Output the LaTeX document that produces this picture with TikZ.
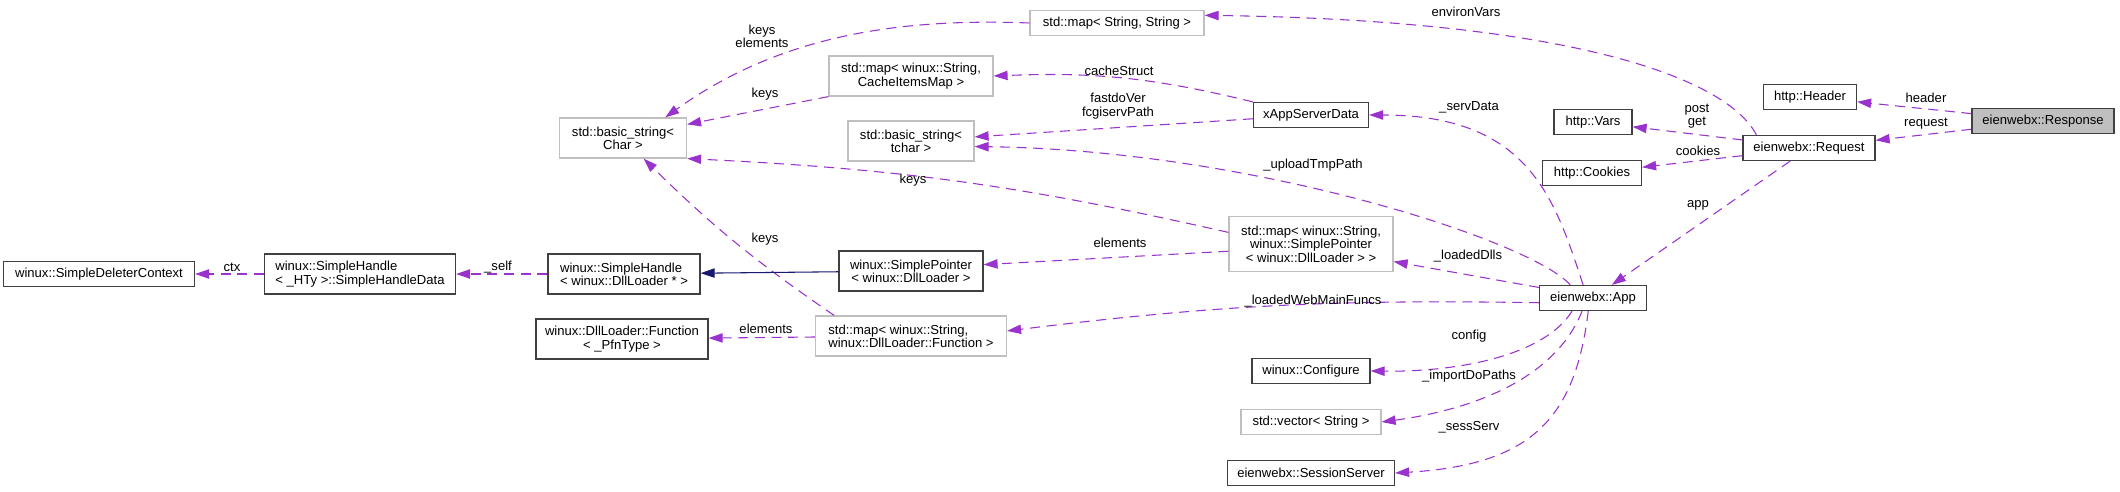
\documentclass[tikz,border=0pt]{standalone}
\usepackage{fontspec}
\setmainfont{Liberation Sans}
\usetikzlibrary{arrows.meta}
\definecolor{edgepurple}{HTML}{9A32CD}
\definecolor{inhnavy}{HTML}{191970}
\definecolor{boxgray}{HTML}{BFBFBF}

\begin{document}
\begin{tikzpicture}[x=0.75pt, y=-0.75pt,
    every node/.style={font=\fontsize{9.8}{10}\selectfont, inner sep=0pt},
    cls/.style={draw=black!75, line width=0.9pt, fill=white, minimum height=18.75pt},
    ext/.style={draw=boxgray, line width=0.9pt, fill=white, minimum height=18.75pt},
    wd/.style={minimum width=#1*0.75pt},
    two/.style={minimum height=30pt, align=center},
    dep/.style={draw=edgepurple, line width=0.8pt, dash pattern=on 7.5pt off 5pt,
        -{Triangle[length=10.5pt,width=7pt]}},
    inh/.style={draw=inhnavy, line width=0.8pt, -{Triangle[length=10.5pt,width=7pt]}},
    lbl/.style={align=center}]
    \useasboundingbox (0,0) rectangle (2120,492);

    % Response and its members
    \node[cls, wd=142, fill=boxgray] (resp) at (2043,121) {eienwebx::Response};
    \node[cls, wd=93] (header) at (1810,97) {http::Header};
    \node[cls, wd=132] (req) at (1809,148) {eienwebx::Request};
    \node[cls, wd=78] (vars) at (1593,122) {http::Vars};
    \node[cls, wd=99] (cookies) at (1592,173) {http::Cookies};
    \node[cls, wd=107] (app) at (1593,298) {eienwebx::App};

    % App members
    \node[cls, wd=115] (xapp) at (1311,115) {xAppServerData};
    \node[ext, wd=174] (mapss) at (1117,23) {std::map< String, String >};
    \node[ext, wd=164, minimum height=41.25pt, align=center] (mapptr) at (1311,244) {std::map< winux::String,\\winux::SimplePointer\\< winux::DllLoader > >};
    \node[cls, wd=118] (config) at (1311,371) {winux::Configure};
    \node[ext, wd=140] (vec) at (1311,422) {std::vector< String >};
    \node[cls, wd=167] (sess) at (1311,473) {eienwebx::SessionServer};

    % Middle column
    \node[ext, two, wd=164] (mapcache) at (911,76) {std::map< winux::String,\\CacheItemsMap >};
    \node[ext, two, wd=126] (strtchar) at (911,141) {std::basic\_string<\\tchar >};
    \node[cls, two, wd=144] (sptr) at (911,271) {winux::SimplePointer\\< winux::DllLoader >};
    \node[ext, minimum height=30pt, wd=191, align=left] (mapfn) at (911,336) {std::map< winux::String,\\ winux::DllLoader::Function >};

    % Left side
    \node[ext, two, wd=127] (strchar) at (623,138) {std::basic\_string<\\Char >};
    \node[cls, minimum height=30pt, wd=152, align=left] (shandle) at (624,274) {winux::SimpleHandle\\< winux::DllLoader * >};
    \node[cls, two, wd=172] (dllfn) at (622,339) {winux::DllLoader::Function\\< \_PfnType >};
    \node[cls, minimum height=30pt, wd=191, align=left] (shdata) at (360,274) {winux::SimpleHandle\\< \_HTy >::SimpleHandleData};
    \node[cls, wd=191] (sdel) at (99,274) {winux::SimpleDeleterContext};

    % Edges from Response and Request
    \draw[dep] (resp) -- (header);
    \draw[dep] (resp) -- (req);
    \draw[dep] (req) -- (vars);
    \draw[dep] (req) -- (cookies);
    \draw[dep] (req) -- (app);
    \draw[dep] (req.166) .. controls (1725,75) and (1560,20) .. (mapss.5);
    \node[lbl] (lheader) at (1926,98) {header};
    \node[lbl] (lrequest) at (1926,124) {request};
    \node[lbl] (lpost) at (1697,116) {post\\get};
    \node[lbl] (lcookies) at (1698,151) {cookies};
    \node[lbl] (lapp) at (1698,205) {app};
    \node[lbl] (lenv) at (1466,12) {environVars};

    % Edges from App
    \draw[dep] (app.150) .. controls (1530,240) and (1250,150) .. (strtchar.-5);
    \draw[dep] (app.127) .. controls (1555,200) and (1530,115) .. (xapp.east);
    \draw[dep] (app.169) -- (mapptr.-12);
    \draw[dep] (app.185) to[bend right=4] (mapfn.3);
    \draw[dep] (app.212) .. controls (1545,355) and (1460,372) .. (config.east);
    \draw[dep] (app.230) .. controls (1555,380) and (1470,410) .. (vec.east);
    \draw[dep] (app.250) .. controls (1575,420) and (1530,465) .. (sess.east);
    \node[lbl] (lupload) at (1313,165) {\_uploadTmpPath};
    \node[lbl] (lserv) at (1469,107) {\_servData};
    \node[lbl] (ldlls) at (1468,256) {\_loadedDlls};
    \node[lbl] (lfuncs) at (1313,301) {\_loadedWebMainFuncs};
    \node[lbl] (lconfig) at (1469,336) {config};
    \node[lbl] (limport) at (1469,376) {\_importDoPaths};
    \node[lbl] (lsess) at (1469,427) {\_sessServ};

    % xAppServerData members
    \draw[dep] (xapp.north west) to[bend right=8] (mapcache.east);
    \draw[dep] (xapp) -- (strtchar);
    \node[lbl] (lcache) at (1119,71) {cacheStruct};
    \node[lbl] (lfastdo) at (1118,106) {fastdoVer\\fcgiservPath};

    % Maps to strings
    \draw[dep] (mapss.west) .. controls (900,18) and (780,35) .. (strchar.26);
    \draw[dep] (mapcache.south west) -- (strchar.12);
    \draw[dep] (mapptr.172) to[bend right=5] (strchar.south east);
    \draw[dep] (mapfn.165) to[bend left=5] (strchar.-45);
    \node[lbl] (lkeys1) at (762,36) {keys\\elements};
    \node[lbl] (lkeys2) at (765,94) {keys};
    \node[lbl] (lkeys3) at (913,180) {keys};
    \node[lbl] (lkeys4) at (765,239) {keys};

    % Pointer and handle chain
    \draw[dep] (mapptr.185) -- (sptr.5);
    \draw[inh] (sptr) -- (shandle);
    \draw[dep] (shandle) -- (shdata);
    \draw[dep] (shdata) -- (sdel);
    \draw[dep] (mapfn) -- (dllfn);
    \node[lbl] (lelem1) at (1120,243) {elements};
    \node[lbl] (lself) at (498,267) {\_self};
    \node[lbl] (lctx) at (232,267) {ctx};
    \node[lbl] (lelem2) at (766,329) {elements};
\end{tikzpicture}
\end{document}
